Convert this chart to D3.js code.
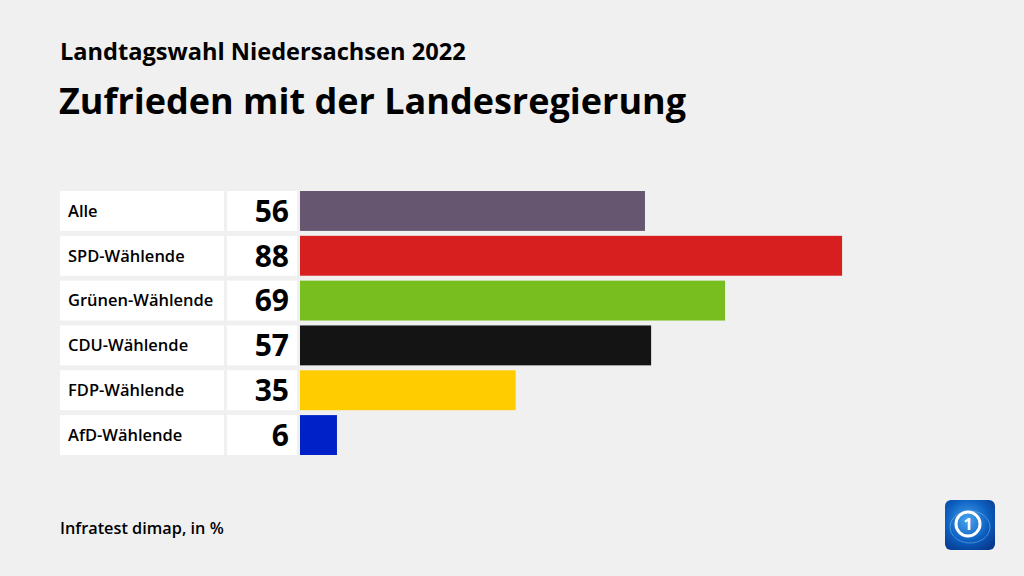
<!DOCTYPE html>
<html><head><meta charset="utf-8">
<script src="https://cdn.jsdelivr.net/npm/d3@7"></script>
<style>body{margin:0;background:#f0f0f0;}svg{display:block;font-family:"Open Sans",sans-serif;}</style>
</head><body>
<script>
const categories = ["Alle","SPD-Wählende","Grünen-Wählende","CDU-Wählende","FDP-Wählende","AfD-Wählende"];
const values = [56,88,69,57,35,6];
const colors = ["#67566f","#d81f1f","#78be1e","#141414","#ffcc00","#0021c8"];
const subtitle = "Landtagswahl Niedersachsen 2022";
const title = "Zufrieden mit der Landesregierung";
const source = "Infratest dimap, in %";

const W=1024,H=576;
const svg=d3.select("body").append("svg").attr("width",W).attr("height",H);
svg.append("rect").attr("width",W).attr("height",H).attr("fill","#f0f0f0");

svg.append("text").attr("x",60).attr("y",60).attr("font-size",23.6).attr("font-weight",700).attr("fill","#000").text(subtitle);
svg.append("text").attr("x",59).attr("y",114).attr("font-size",36).attr("font-weight",700).attr("fill","#000").text(title);

const x=d3.scaleLinear().domain([0,100]).range([300,916]);
const y=d3.scaleBand().domain(categories).range([191,455]).paddingInner(0.11).paddingOuter(0);

const rows=svg.append("g").selectAll("g").data(categories).join("g");
rows.append("rect").attr("x",60).attr("y",d=>y(d)).attr("width",164).attr("height",y.bandwidth()).attr("fill","#fff");
rows.append("rect").attr("x",227).attr("y",d=>y(d)).attr("width",70).attr("height",y.bandwidth()).attr("fill","#fff");
rows.append("text").attr("x",68).attr("y",d=>y(d)+y.bandwidth()/2).attr("dy","0.35em").attr("font-size",16.5).attr("font-weight",600).attr("fill","#000").text(d=>d);
rows.append("text").attr("x",289).attr("y",d=>y(d)+y.bandwidth()/2).attr("dy","0.36em").attr("text-anchor","end").attr("font-size",30).attr("font-weight",700).attr("fill","#000").text((d,i)=>values[i]);
rows.append("rect").attr("x",x(0)).attr("y",d=>y(d)).attr("width",(d,i)=>x(values[i])-x(0)).attr("height",y.bandwidth()).attr("fill",(d,i)=>colors[i]);

svg.append("text").attr("x",60).attr("y",534).attr("font-size",16.3).attr("font-weight",600).attr("fill","#000").text(source);

// logo
const defs=svg.append("defs");
const g=defs.append("radialGradient").attr("id","lg").attr("cx","45%").attr("cy","40%").attr("r","70%");
g.append("stop").attr("offset","0%").attr("stop-color","#4aa6ef");
g.append("stop").attr("offset","60%").attr("stop-color","#0c5fc0");
g.append("stop").attr("offset","100%").attr("stop-color","#073a8f");
const logo=svg.append("g").attr("transform","translate(945,500)");
logo.append("rect").attr("width",50).attr("height",50).attr("rx",6).attr("fill","url(#lg)");
logo.append("ellipse").attr("cx",25).attr("cy",27).attr("rx",20).attr("ry",16).attr("fill","none").attr("stroke","#7cc3f5").attr("stroke-width",1).attr("opacity",0.5);
logo.append("circle").attr("cx",23).attr("cy",24).attr("r",12).attr("fill","none").attr("stroke","#fff").attr("stroke-width",3);
logo.append("text").attr("x",23).attr("y",30).attr("text-anchor","middle").attr("font-size",16).attr("font-weight",700).attr("fill","#fff").text("1");
</script>
</body></html>
